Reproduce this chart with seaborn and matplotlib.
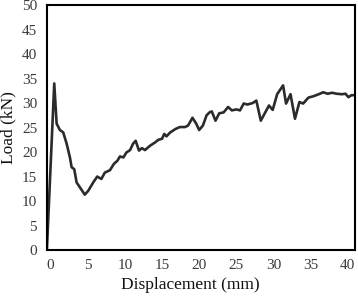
"""Load-displacement curve, single specimen."""

import matplotlib.pyplot as plt
import pandas as pd
import seaborn as sns

sns.set_theme(style="white")
plt.rcParams["font.family"] = ["Liberation Serif", "DejaVu Serif"]

# values
displacement_mm = [
    -0.5, 0.49, 0.81, 1.25, 1.7, 2.16, 2.6, 2.83, 3.18, 3.5, 3.94, 4.6, 5.07,
    5.74, 6.28, 6.83, 7.3, 7.99, 8.53, 8.98, 9.34, 9.8, 10.2, 10.7, 11.1,
    11.45, 11.9, 12.3, 12.7, 13.4, 14.1, 14.5, 15.0, 15.3, 15.6, 16.1, 16.8,
    17.4, 18.1, 18.5, 19.1, 19.6, 20.0, 20.5, 21.0, 21.4, 21.7, 22.2, 22.7,
    23.3, 23.9, 24.4, 25.0, 25.5, 26.0, 26.5, 27.2, 27.7, 28.3, 28.9, 29.4,
    29.9, 30.5, 31.3, 31.7, 32.3, 32.9, 33.5, 34.0, 34.7, 35.4, 36.1, 36.7,
    37.3, 37.9, 38.5, 39.2, 39.7, 40.1, 40.5, 41.0,
]
load_kn = [
    0.1, 34.0, 25.8, 24.5, 24.0, 21.7, 18.9, 16.9, 16.5, 13.8, 12.8, 11.3,
    12.1, 13.8, 15.0, 14.5, 15.8, 16.3, 17.6, 18.2, 19.1, 18.9, 19.9, 20.4,
    21.7, 22.3, 20.3, 20.8, 20.4, 21.3, 22.0, 22.5, 22.7, 23.7, 23.2, 24.0,
    24.7, 25.1, 25.1, 25.4, 27.0, 25.8, 24.5, 25.4, 27.5, 28.1, 28.3, 26.4,
    27.9, 28.1, 29.2, 28.5, 28.7, 28.5, 29.9, 29.7, 30.0, 30.5, 26.4, 28.1,
    29.5, 28.6, 31.8, 33.6, 29.9, 31.8, 26.8, 30.2, 29.9, 31.1, 31.4, 31.8,
    32.2, 31.9, 32.1, 31.9, 31.8, 31.9, 31.2, 31.6, 31.6,
]
x_ticks = [0, 5, 10, 15, 20, 25, 30, 35, 40]
y_ticks = [0, 5, 10, 15, 20, 25, 30, 35, 40, 45, 50]


def main() -> None:
    df = pd.DataFrame({"disp": displacement_mm, "load": load_kn})

    fig = plt.figure(figsize=(3.58, 2.98), dpi=100)
    ax = fig.add_axes([0.131, 0.161, 0.861, 0.822])
    sns.lineplot(data=df, x="disp", y="load", sort=False, ax=ax,
                 color="#2b2b2b", linewidth=1.9)

    ax.set_xlim(-0.5, 41)
    ax.set_ylim(0, 50)
    ax.set_xticks(x_ticks)
    ax.set_yticks(y_ticks)
    ax.tick_params(length=0, labelsize=11, colors="#3a3a3a")
    ax.tick_params(axis="x", pad=6.5)
    ax.tick_params(axis="y", pad=7)
    for side in ax.spines.values():
        side.set_color("black")
        side.set_linewidth(1.5)

    ax.set_xlabel("Displacement (mm)", fontsize=12.5, color="#111111")
    ax.set_ylabel("Load (kN)", fontsize=12.5, color="#111111")
    ax.yaxis.set_label_coords(-0.098, 0.5)
    ax.xaxis.set_label_coords(0.466, -0.112)

    fig.savefig("out.png", dpi=100)
    plt.close(fig)


if __name__ == "__main__":
    main()
